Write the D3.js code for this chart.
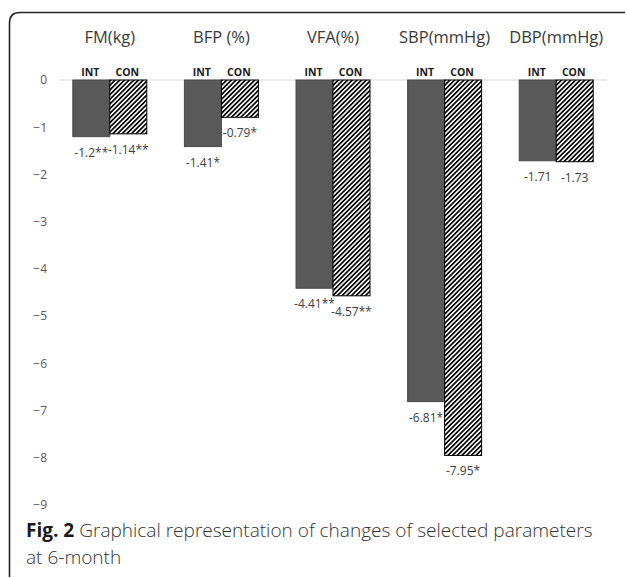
<!DOCTYPE html>
<html>
<head>
<meta charset="utf-8">
<script src="https://cdn.jsdelivr.net/npm/d3@7"></script>
<style>
  html, body { margin: 0; padding: 0; background: #fff; }
  svg { display: block; }
</style>
</head>
<body>
<svg id="chart" width="627" height="578"></svg>
<script>
// ---- data ----
const categories = ["FM(kg)", "BFP (%)", "VFA(%)", "SBP(mmHg)", "DBP(mmHg)"];
const groups = ["INT", "CON"];
const intValues = [-1.2, -1.41, -4.41, -6.81, -1.71];
const conValues = [-1.14, -0.79, -4.57, -7.95, -1.73];
const intLabels = ["-1.2**", "-1.41*", "-4.41**", "-6.81*", "-1.71"];
const conLabels = ["-1.14**", "-0.79*", "-4.57**", "-7.95*", "-1.73"];
const yTicks = [0, -1, -2, -3, -4, -5, -6, -7, -8, -9];
const captionBold = "Fig. 2";
const captionLine1 = " Graphical representation of changes of selected parameters";
const captionLine2 = "at 6-month";

const svg = d3.select("#chart");
const FONT = "'Open Sans', 'Noto Sans', sans-serif";

// pattern for CON bars
const defs = svg.append("defs");
const pat = defs.append("pattern")
  .attr("id", "hatch")
  .attr("patternUnits", "userSpaceOnUse")
  .attr("width", 3.3).attr("height", 3.3)
  .attr("patternTransform", "rotate(45)");
pat.append("rect").attr("width", 3.3).attr("height", 3.3).attr("fill", "#fff");
pat.append("rect").attr("width", 1.7).attr("height", 3.3).attr("fill", "#000");

// frame (left + top with rounded corner)
svg.append("path")
  .attr("d", "M9.5,577 L9.5,23 Q9.5,12.5 20,12.5 L625,12.5")
  .attr("fill", "none").attr("stroke", "#222").attr("stroke-width", 1.6);

// scales
const x0 = d3.scaleBand().domain(categories).range([54, 612]).padding(0);
const bw = x0.bandwidth();
const x1 = d3.scaleBand().domain(groups).range([bw * 0.1685, bw * 0.8315]).padding(0);
const y = d3.scaleLinear().domain([-9, 0]).range([505, 80]);

// y axis labels via d3 axis (no domain / tick lines)
const yAxis = svg.append("g")
  .attr("transform", "translate(47,0)")
  .call(d3.axisLeft(y).tickValues(yTicks).tickSize(0).tickPadding(0).tickFormat(d3.format("d")));
yAxis.select(".domain").remove();
yAxis.selectAll("text")
  .attr("font-family", FONT).attr("font-size", 12).attr("fill", "#595959");

// zero line
svg.append("line")
  .attr("x1", 60).attr("x2", 607)
  .attr("y1", y(0)).attr("y2", y(0))
  .attr("stroke", "#d9d9d9").attr("stroke-width", 1);

const rows = categories.map((c, i) => ({
  cat: c,
  bars: [
    { g: "INT", v: intValues[i], label: intLabels[i] },
    { g: "CON", v: conValues[i], label: conLabels[i] }
  ]
}));

const gEl = svg.selectAll("g.cat").data(rows).enter().append("g")
  .attr("class", "cat")
  .attr("transform", d => `translate(${x0(d.cat)},0)`);

// category titles
gEl.append("text")
  .attr("x", bw / 2).attr("y", 43)
  .attr("text-anchor", "middle")
  .attr("font-family", FONT).attr("font-size", 16.5).attr("fill", "#3a3a3a")
  .text(d => d.cat);

// bars
gEl.selectAll("rect.bar").data(d => d.bars).enter().append("rect")
  .attr("class", "bar")
  .attr("x", d => x1(d.g))
  .attr("width", x1.bandwidth())
  .attr("y", y(0))
  .attr("height", d => y(d.v) - y(0))
  .attr("fill", d => d.g === "INT" ? "#595959" : "url(#hatch)")
  .attr("stroke", d => d.g === "INT" ? "#4a4a4a" : "#000")
  .attr("stroke-width", 1);

// INT / CON labels
gEl.selectAll("text.grp").data(d => d.bars).enter().append("text")
  .attr("class", "grp")
  .attr("x", d => x1(d.g) + x1.bandwidth() / 2 - 1)
  .attr("y", 76)
  .attr("text-anchor", "middle")
  .attr("font-family", FONT).attr("font-size", 10.5).attr("font-weight", "bold")
  .attr("fill", "#1a1a1a")
  .text(d => d.g);

// value labels
gEl.selectAll("text.val").data(d => d.bars).enter().append("text")
  .attr("class", "val")
  .attr("x", d => x1(d.g) + x1.bandwidth() / 2)
  .attr("y", d => y(d.v) + 20)
  .attr("text-anchor", "middle")
  .attr("font-family", FONT).attr("font-size", 12).attr("fill", "#404040")
  .text(d => d.label);

// caption
const cap1 = svg.append("text")
  .attr("x", 26).attr("y", 537)
  .attr("font-family", FONT).attr("font-size", 20).attr("fill", "#333");
cap1.append("tspan").attr("font-weight", "bold").attr("fill", "#1a1a1a").text(captionBold);
cap1.append("tspan").attr("font-weight", 300).text(captionLine1);
const w = cap1.node().getComputedTextLength();
const fs = 20 * 567 / w;
cap1.attr("font-size", fs);

svg.append("text")
  .attr("x", 26).attr("y", 564)
  .attr("font-family", FONT).attr("font-size", fs).attr("font-weight", 300).attr("fill", "#333")
  .text(captionLine2);
</script>
</body>
</html>
